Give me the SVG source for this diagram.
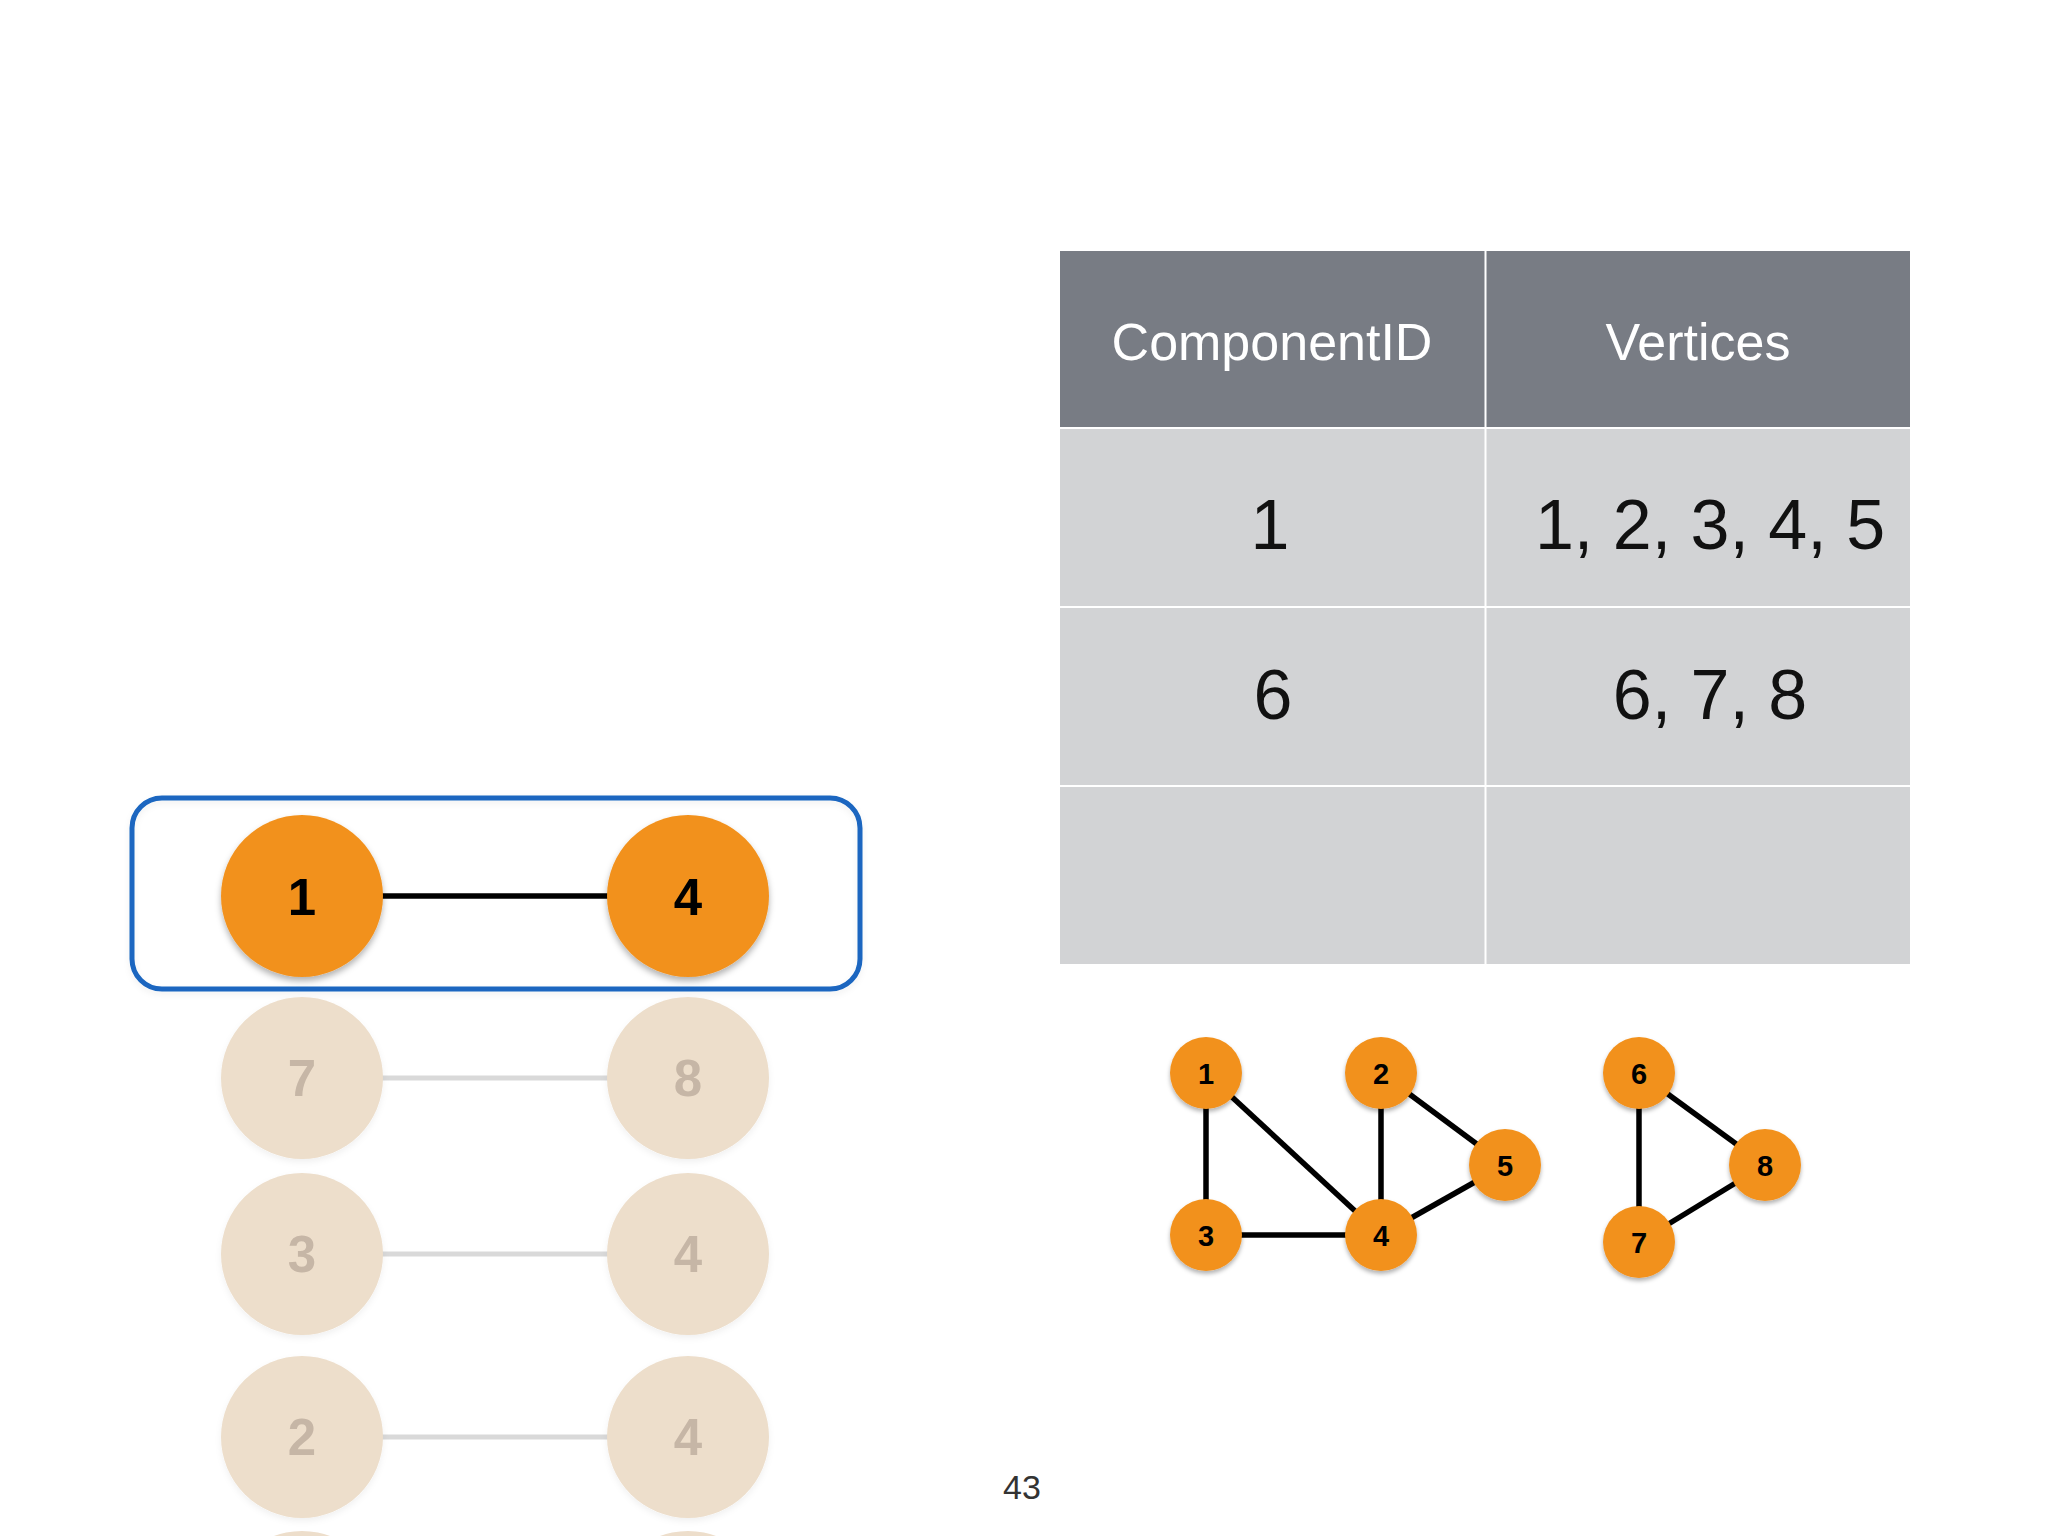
<svg xmlns="http://www.w3.org/2000/svg" width="2048" height="1536" viewBox="0 0 2048 1536">
<defs>
<filter id="sh" x="-30%" y="-30%" width="160%" height="170%">
<feDropShadow dx="0" dy="4" stdDeviation="3" flood-color="#000" flood-opacity="0.3"/>
</filter>
<filter id="shs" x="-30%" y="-30%" width="160%" height="170%">
<feDropShadow dx="0" dy="3" stdDeviation="2" flood-color="#000" flood-opacity="0.3"/>
</filter>
<filter id="shf" x="-30%" y="-30%" width="160%" height="170%">
<feDropShadow dx="0" dy="3" stdDeviation="3" flood-color="#000" flood-opacity="0.06"/>
</filter>
</defs>
<style>
.node{fill:#F2911C}
.big{font-family:"Liberation Sans",Arial,sans-serif;font-weight:bold;font-size:51px;fill:#000;text-anchor:middle}
.small{font-family:"Liberation Sans",Arial,sans-serif;font-weight:bold;font-size:29px;fill:#000;text-anchor:middle}
.fnode{fill:#EDDECB}
.ftext{font-family:"Liberation Sans",Arial,sans-serif;font-weight:bold;font-size:51px;fill:#C6B6A6;text-anchor:middle}
.edge{stroke:#000;stroke-width:5.5;fill:none}
.fedge{stroke:#D9D9D9;stroke-width:5;fill:none}
.th{font-family:"Liberation Sans",Arial,sans-serif;font-size:52px;fill:#FFFFFF;text-anchor:middle}
.td{font-family:"Liberation Sans",Arial,sans-serif;font-size:70px;fill:#111;text-anchor:middle}
</style>
<rect width="2048" height="1536" fill="#FFFFFF"/>

<g id="table">
<rect x="1060" y="251" width="850" height="177" fill="#787C84"/>
<rect x="1060" y="428" width="850" height="536" fill="#D2D3D5"/>
<g stroke="#FFFFFF" stroke-width="2">
<line x1="1485.5" y1="251" x2="1485.5" y2="964"/>
<line x1="1060" y1="428" x2="1910" y2="428"/>
<line x1="1060" y1="607" x2="1910" y2="607"/>
<line x1="1060" y1="786" x2="1910" y2="786"/>
</g>
<text class="th" x="1272" y="360">ComponentID</text>
<text class="th" x="1698" y="360">Vertices</text>
<text class="td" x="1270" y="549">1</text>
<text class="td" x="1710" y="549">1, 2, 3, 4, 5</text>
<text class="td" x="1273" y="719">6</text>
<text class="td" x="1710" y="719">6, 7, 8</text>
</g>

<g id="connectors">
<line class="edge" x1="340" y1="896" x2="650" y2="896" stroke-width="6"/>
<line class="fedge" x1="340" y1="1078" x2="650" y2="1078"/>
<line class="fedge" x1="340" y1="1254" x2="650" y2="1254"/>
<line class="fedge" x1="340" y1="1437" x2="650" y2="1437"/>
<line class="edge" x1="1206" y1="1073" x2="1206" y2="1235"/>
<line class="edge" x1="1206" y1="1073" x2="1381" y2="1235"/>
<line class="edge" x1="1381" y1="1073" x2="1381" y2="1235"/>
<line class="edge" x1="1381" y1="1073" x2="1505" y2="1165"/>
<line class="edge" x1="1206" y1="1235" x2="1381" y2="1235"/>
<line class="edge" x1="1381" y1="1235" x2="1505" y2="1165"/>
<line class="edge" x1="1639" y1="1073" x2="1639" y2="1242"/>
<line class="edge" x1="1639" y1="1073" x2="1765" y2="1165"/>
<line class="edge" x1="1639" y1="1242" x2="1765" y2="1165"/>
</g>

<g id="selection-box">
<rect x="132" y="798" width="728" height="191" rx="30" ry="30" fill="none" stroke="#1A66C0" stroke-width="5" filter="url(#shf)"/>
</g>

<g id="edge-1-4-n1"><circle class="node" cx="302" cy="896" r="81" filter="url(#sh)"/><text class="big" x="302" y="915">1</text></g>
<g id="edge-1-4-n4"><circle class="node" cx="688" cy="896" r="81" filter="url(#sh)"/><text class="big" x="688" y="915">4</text></g>

<g id="edge-7-8-n7"><circle class="fnode" cx="302" cy="1078" r="81" filter="url(#shf)"/><text class="ftext" x="302" y="1096">7</text></g>
<g id="edge-7-8-n8"><circle class="fnode" cx="688" cy="1078" r="81" filter="url(#shf)"/><text class="ftext" x="688" y="1096">8</text></g>
<g id="edge-3-4-n3"><circle class="fnode" cx="302" cy="1254" r="81" filter="url(#shf)"/><text class="ftext" x="302" y="1272">3</text></g>
<g id="edge-3-4-n4"><circle class="fnode" cx="688" cy="1254" r="81" filter="url(#shf)"/><text class="ftext" x="688" y="1272">4</text></g>
<g id="edge-2-4-n2"><circle class="fnode" cx="302" cy="1437" r="81" filter="url(#shf)"/><text class="ftext" x="302" y="1455">2</text></g>
<g id="edge-2-4-n4"><circle class="fnode" cx="688" cy="1437" r="81" filter="url(#shf)"/><text class="ftext" x="688" y="1455">4</text></g>
<g id="edge-next-a"><circle class="fnode" cx="302" cy="1612" r="81"/></g>
<g id="edge-next-b"><circle class="fnode" cx="688" cy="1612" r="81"/></g>

<g id="g1"><circle class="node" cx="1206" cy="1073" r="36" filter="url(#shs)"/><text class="small" x="1206" y="1084">1</text></g>
<g id="g2"><circle class="node" cx="1381" cy="1073" r="36" filter="url(#shs)"/><text class="small" x="1381" y="1084">2</text></g>
<g id="g3"><circle class="node" cx="1206" cy="1235" r="36" filter="url(#shs)"/><text class="small" x="1206" y="1246">3</text></g>
<g id="g4"><circle class="node" cx="1381" cy="1235" r="36" filter="url(#shs)"/><text class="small" x="1381" y="1246">4</text></g>
<g id="g5"><circle class="node" cx="1505" cy="1165" r="36" filter="url(#shs)"/><text class="small" x="1505" y="1176">5</text></g>
<g id="g6"><circle class="node" cx="1639" cy="1073" r="36" filter="url(#shs)"/><text class="small" x="1639" y="1084">6</text></g>
<g id="g7"><circle class="node" cx="1639" cy="1242" r="36" filter="url(#shs)"/><text class="small" x="1639" y="1253">7</text></g>
<g id="g8"><circle class="node" cx="1765" cy="1165" r="36" filter="url(#shs)"/><text class="small" x="1765" y="1176">8</text></g>

<text x="1022" y="1499" font-family="Liberation Sans, Arial, sans-serif" font-size="34" fill="#333" text-anchor="middle">43</text>
</svg>
